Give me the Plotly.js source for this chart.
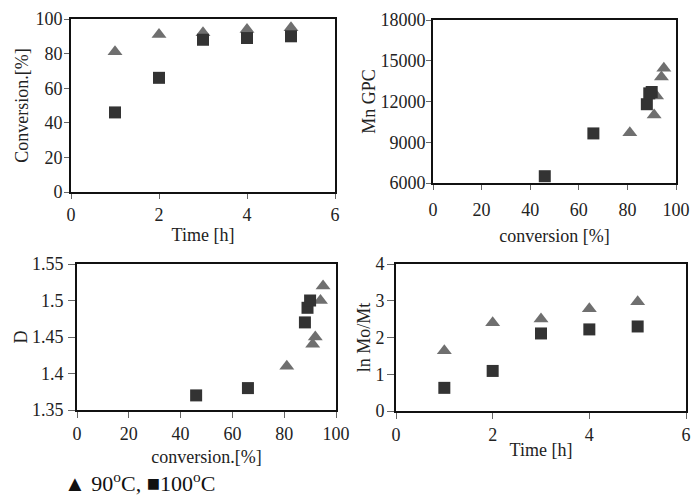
<!DOCTYPE html>
<html>
<head>
<meta charset="utf-8">
<script src="https://cdn.plot.ly/plotly-3.0.1.min.js"></script>
<style>html,body{margin:0;padding:0;background:#fff;}#chart{width:691px;height:497px;}</style>
</head>
<body>
<div id="chart"></div>
<script>
// Data
const time_h = [1, 2, 3, 4, 5];
const conv90 = [81, 91, 92, 94, 95];      // conversion [%] at 90 C
const conv100 = [46, 66, 88, 89, 90];     // conversion [%] at 100 C
const mn90 = [9700, 11000, 12400, 13800, 14450];
const mn100 = [6500, 9650, 11800, 12600, 12700];
const d90 = [1.41, 1.44, 1.45, 1.50, 1.52];
const d100 = [1.37, 1.38, 1.47, 1.49, 1.50];
const ln90 = [1.64, 2.40, 2.50, 2.78, 2.97];
const ln100 = [0.63, 1.09, 2.11, 2.22, 2.30];

const c90 = '#6f6f6f', c100 = '#333333';
const FONT = 'Liberation Serif, Times New Roman, serif';
const m90 = {symbol: 'triangle-up', size: 13, color: c90};
const m100 = {symbol: 'square', size: 12, color: c100};

function tr(x, y, m, xa, ya, name) {
  return {x: x, y: y, type: 'scatter', mode: 'markers', marker: m, xaxis: xa, yaxis: ya, name: name, showlegend: false, hoverinfo: 'x+y'};
}
const traces = [
  tr(time_h, conv90, m90, 'x', 'y', '90°C'),
  tr(time_h, conv100, m100, 'x', 'y', '100°C'),
  tr(conv90, mn90, m90, 'x2', 'y2', '90°C'),
  tr(conv100, mn100, m100, 'x2', 'y2', '100°C'),
  tr(conv90, d90, m90, 'x3', 'y3', '90°C'),
  tr(conv100, d100, m100, 'x3', 'y3', '100°C'),
  tr(time_h, ln90, m90, 'x4', 'y4', '90°C'),
  tr(time_h, ln100, m100, 'x4', 'y4', '100°C')
];

function ax(extra) {
  return Object.assign({
    showgrid: false, zeroline: false, showline: true, mirror: true,
    linecolor: '#111', linewidth: 2, ticks: 'outside', ticklen: 5, tickwidth: 1,
    tickcolor: '#666', tickfont: {family: FONT, size: 18, color: '#222', weight: 'normal'},
    automargin: false, fixedrange: true
  }, extra);
}
function ttl(t, s) { return {text: t, font: {family: FONT, size: 18, color: '#222', weight: 'normal'}, standoff: s}; }

const W = 691, H = 497;
const px = (a, b) => [a / W, b / W];
const py = (top, bot) => [1 - bot / H, 1 - top / H];

const layout = {
  width: W, height: H,
  margin: {l: 0, r: 0, t: 0, b: 0},
  paper_bgcolor: '#fff', plot_bgcolor: '#fff',
  font: {family: FONT, size: 18, color: '#222'},
  showlegend: false,
  xaxis: ax({domain: px(71, 335), range: [0, 6], dtick: 2, anchor: 'y', ticklabelstandoff: 0, title: ttl('Time [h]', 5)}),
  yaxis: ax({domain: py(19, 192), range: [0, 100], dtick: 20, anchor: 'x', ticklabelstandoff: -2, title: ttl('Conversion.[%]', 2)}),
  xaxis2: ax({domain: px(433, 676), range: [0, 100], dtick: 20, anchor: 'y2', ticklabelstandoff: 4, title: ttl('conversion [%]', 11)}),
  yaxis2: ax({domain: py(20, 183), range: [6000, 18000], dtick: 3000, tickformat: 'd', anchor: 'x2', ticklabelstandoff: -3, title: ttl('Mn GPC', 0)}),
  xaxis3: ax({domain: px(77, 336), range: [0, 100], dtick: 20, anchor: 'y3', ticklen: 6, ticklabelstandoff: 0, title: ttl('conversion.[%]', 8)}),
  yaxis3: ax({domain: py(264, 410), range: [1.35, 1.55], dtick: 0.05, anchor: 'x3', ticklen: 7, ticklabelstandoff: 1, title: ttl('D', 0)}),
  xaxis4: ax({domain: px(396, 686), range: [0, 6], dtick: 2, anchor: 'y4', ticklen: 6, ticklabelstandoff: 0, title: ttl('Time [h]', 0)}),
  yaxis4: ax({domain: py(264, 411), range: [0, 4], dtick: 1, anchor: 'x4', ticklen: 7, ticklabelstandoff: -1, title: ttl('ln Mo/Mt', 0)}),
  annotations: [{
    xref: 'paper', yref: 'paper', x: 62 / W, y: 0, xanchor: 'left', yanchor: 'bottom', yshift: -1,
    showarrow: false, text: '▲ 90<sup>o</sup>C, ■100<sup>o</sup>C',
    font: {family: FONT, size: 22, color: '#111'}
  }]
};

Plotly.newPlot('chart', traces, layout, {staticPlot: true, displayModeBar: false});
</script>
</body>
</html>
